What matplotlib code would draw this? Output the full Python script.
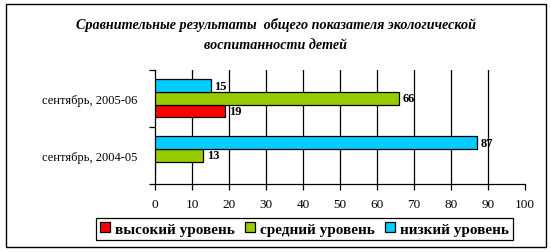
import matplotlib.pyplot as plt
import matplotlib.patches as patches
import numpy as np

plt.rcParams['font.family'] = ['Liberation Serif', 'DejaVu Serif']

categories = ['сентябрь, 2004-05', 'сентябрь, 2005-06']
series_names = ['высокий уровень', 'средний уровень', 'низкий уровень']
high = [0, 19]
medium = [13, 66]
low = [87, 15]
colors = ['#FF0000', '#99CC00', '#00CCFF']
title = 'Сравнительные результаты  общего показателя экологической\nвоспитанности детей'

W, H = 551, 253
fig = plt.figure(figsize=(W / 100, H / 100), dpi=100)
fig.patch.set_facecolor('white')

# axes box in pixels: x 155..525, y 70.7..185 (from top)
ax = fig.add_axes([155 / W, (H - 185) / H, (525 - 155) / W, (185 - 70.7) / H])

y = np.arange(len(categories))
h = 0.222
for i, (vals, name, c) in enumerate(zip([high, medium, low], series_names, colors)):
    pos = y + (i - 1) * h
    bars = ax.barh(pos, vals, height=h, color=c, edgecolor='black', linewidth=0.9,
                   label=name, zorder=3)
    for b, v in zip(bars, vals):
        if v == 0:
            continue
        ax.text(v + 1, b.get_y() + b.get_height() / 2, str(v), fontsize=9,
                fontweight='bold', ha='left', va='center', zorder=4)

ax.set_xlim(0, 100)
ax.set_ylim(-0.5, 1.5)
ax.set_xticks(np.arange(0, 101, 10))
ax.tick_params(axis='x', direction='out', length=4, width=0.9, labelsize=9.5, pad=6)
ax.set_yticks(y)
ax.set_yticklabels(categories, fontsize=9)
ax.set_yticks([-0.5, 0.5, 1.5], minor=True)
ax.tick_params(axis='y', which='major', length=0, pad=13)
ax.tick_params(axis='y', which='minor', direction='out', length=4, width=0.9)

for xv in range(10, 100, 10):
    ax.axvline(xv, color='black', linewidth=0.9, zorder=1)

for s in ['top', 'right']:
    ax.spines[s].set_visible(False)
for s in ['left', 'bottom']:
    ax.spines[s].set_linewidth(0.9)

fig.text(0.5, (H - 35) / H, title, ha='center', va='center', fontsize=10.2,
         fontstyle='italic', fontweight='bold', linespacing=1.75)

leg = fig.legend(loc='center', bbox_to_anchor=(304.5 / W, (H - 230) / H), ncol=3,
                 frameon=True, fancybox=False, edgecolor='black', framealpha=1,
                 prop={'weight': 'bold', 'size': 11}, handlelength=0.65,
                 handleheight=0.65, handletextpad=0.3, columnspacing=0.7,
                 borderpad=0.3, borderaxespad=0)
leg.get_frame().set_linewidth(0.9)

fig.patches.append(patches.Rectangle((5.5 / W, (H - 248.3) / H), (546 - 5.5) / W,
                                     (248.3 - 5) / H, transform=fig.transFigure,
                                     fill=False, edgecolor='black', linewidth=1))

fig.savefig('out.png', dpi=100)
